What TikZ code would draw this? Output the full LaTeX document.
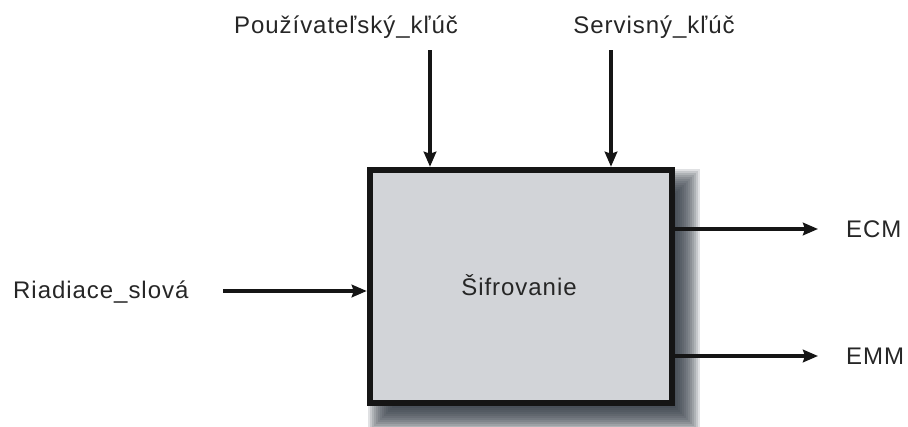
\documentclass[tikz,border=0pt]{standalone}
\usepackage{fontspec}
\setmainfont{Liberation Sans}[LetterSpace=4]
\usetikzlibrary{arrows.meta,calc,positioning}
\definecolor{boxgray}{HTML}{D2D4D8}
\definecolor{edgeblack}{HTML}{151515}
\definecolor{labelgray}{HTML}{262626}
\definecolor{shadowgray}{HTML}{303842}

\begin{document}
\begin{tikzpicture}[
  x=1pt,
  y=-1pt,
  >={Stealth[length=15pt,width=12.5pt,inset=2pt]},
  blockbox/.style={
    draw=edgeblack,
    fill=boxgray,
    line width=6.5pt,
    minimum width=302pt,
    minimum height=233pt,
    inner sep=0pt
  },
  flowline/.style={
    ->,
    draw=edgeblack,
    line width=3.6pt
  },
  labeltext/.style={
    font=\fontsize{24}{28}\selectfont,
    text=labelgray,
    inner sep=0pt
  }
]
\useasboundingbox (0,0) rectangle (908,426);

% function block with soft shadow
\coordinate (boxcenter) at (521,286.5);
\foreach \e in {-12,-10,...,12}
  \fill[shadowgray,fill opacity=0.15]
    ($(boxcenter)+(-141-\e,-106-\e)$) rectangle ($(boxcenter)+(167+\e,133+\e)$);
\node[blockbox] (box) at (boxcenter) {};
\node[labeltext,anchor=base] (cipher) at (519,295) {Šifrovanie};

% inputs from above
\node[labeltext,anchor=base] (userkey) at (346,33) {Používateľský\_kľúč};
\node[labeltext,anchor=base] (servicekey) at (654,33) {Servisný\_kľúč};
\coordinate (userkeyin) at (430,50);
\coordinate (servicekeyin) at (611,50);
\draw[flowline] (userkeyin) -- (userkeyin |- box.north);
\draw[flowline] (servicekeyin) -- (servicekeyin |- box.north);

% input from the left
\node[labeltext,anchor=base west] (control) at (13,298) {Riadiace\_slová};
\coordinate (controlin) at (223,291);
\draw[flowline] (controlin) -- (controlin -| box.west);

% outputs
\node[labeltext,anchor=base west] (ecm) at (846,237) {ECM};
\node[labeltext,anchor=base west] (emm) at (846,364) {EMM};
\coordinate (ecmout) at (818,229);
\coordinate (emmout) at (818,356);
\draw[flowline] (ecmout -| box.east) -- (ecmout);
\draw[flowline] (emmout -| box.east) -- (emmout);
\end{tikzpicture}
\end{document}
